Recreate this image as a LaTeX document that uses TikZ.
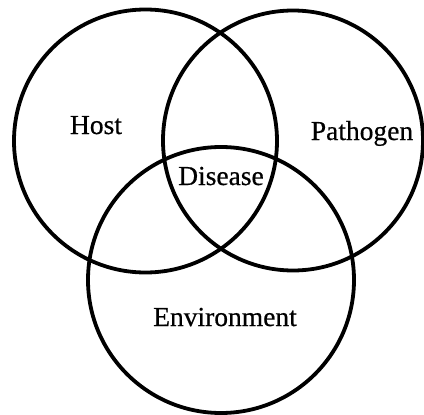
\documentclass[tikz,border=0pt]{standalone}
\usepackage{fontspec}
\setmainfont{Liberation Serif}[FakeBold=0.6]
\begin{document}
\begin{tikzpicture}[x=1pt,y=-1pt,
  ring/.style={draw=black,line width=3.8pt},
  lbl/.style={font=\fontsize{27.5}{31}\selectfont,anchor=base,inner sep=0pt}]
\useasboundingbox (0,0) rectangle (424,415);
\node[ring,circle,minimum size=263pt,inner sep=0pt] (host) at (145.5,141) {};
\node[ring,circle,minimum size=260pt,inner sep=0pt] (path) at (293,140.5) {};
\node[ring,circle,minimum size=266pt,inner sep=0pt] (env) at (221,280) {};
\node[lbl] (hostl) at (96,134) {Host};
\node[lbl] (pathl) at (362,140) {Pathogen};
\node[lbl] (disl) at (221,185) {Disease};
\node[lbl] (envl) at (225,326) {Environment};
\end{tikzpicture}
\end{document}
